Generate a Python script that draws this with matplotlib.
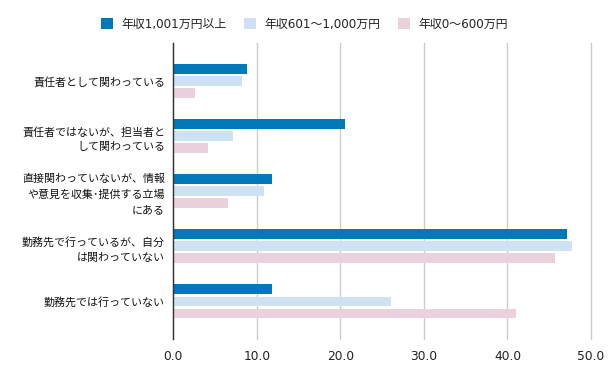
import matplotlib
matplotlib.use("Agg")
import matplotlib.pyplot as plt
import numpy as np

plt.rcParams['font.family'] = ['DejaVu Sans', 'Noto Sans CJK JP']

categories = [
    "責任者として関わっている",
    "責任者ではないが、担当者と\nして関わっている",
    "直接関わっていないが、情報\nや意見を収集･提供する立場\nにある",
    "勤務先で行っているが、自分\nは関わっていない",
    "勤務先では行っていない",
]
series_names = ["年収1,001万円以上", "年収601～1,000万円", "年収0～600万円"]
high = [8.8, 20.5, 11.8, 47.1, 11.8]
mid = [8.2, 7.2, 10.8, 47.7, 26.0]
low = [2.6, 4.1, 6.6, 45.7, 41.0]
xticks = [0, 10, 20, 30, 40, 50]
colors = ["#0079B8", "#CFE2F3", "#EAD1DC"]

fig = plt.figure(figsize=(6.1, 3.76), dpi=100)
ax = fig.add_axes([0.2841, 0.0984, 0.9689 - 0.2841, 0.8848 - 0.0984])

y = np.arange(len(categories))
off = 12 / 55
h = 9.8 / 55
for i, (vals, c, name) in enumerate(zip([high, mid, low], colors, series_names)):
    ax.barh(y + (i - 1) * off, vals, height=h, color=c, label=name, zorder=3)

pad = 10 / 55
ax.set_ylim(len(categories) - 0.5 + pad, -0.5 - pad)
ax.set_xlim(0, 50)
ax.set_xticks(xticks)
ax.set_xticklabels([f"{v:.1f}" for v in xticks], fontsize=8.8, color="#222222")
ax.set_yticks(y)
ax.set_yticklabels(categories, fontsize=7.9, color="#111111", linespacing=1.6,
                   ha="right")
ax.tick_params(axis="both", length=0)
ax.tick_params(axis="y", pad=6)
ax.tick_params(axis="x", pad=8)
ax.grid(axis="x", color="#CCCCCC", linewidth=1, zorder=0)
for line in ax.get_xgridlines():
    line.set_clip_on(False)
for s in ["top", "right", "bottom"]:
    ax.spines[s].set_visible(False)
ax.spines["left"].set_color("#333333")
ax.spines["left"].set_linewidth(1)
ax.spines["left"].set_zorder(4)

fig.legend(loc="center", bbox_to_anchor=(0.499, 0.936), ncol=3, frameon=False,
           handlelength=1.0, handleheight=1.0, handletextpad=0.7,
           columnspacing=1.5, fontsize=8.6, labelcolor="#222222")

fig.savefig("out.png", dpi=100)
